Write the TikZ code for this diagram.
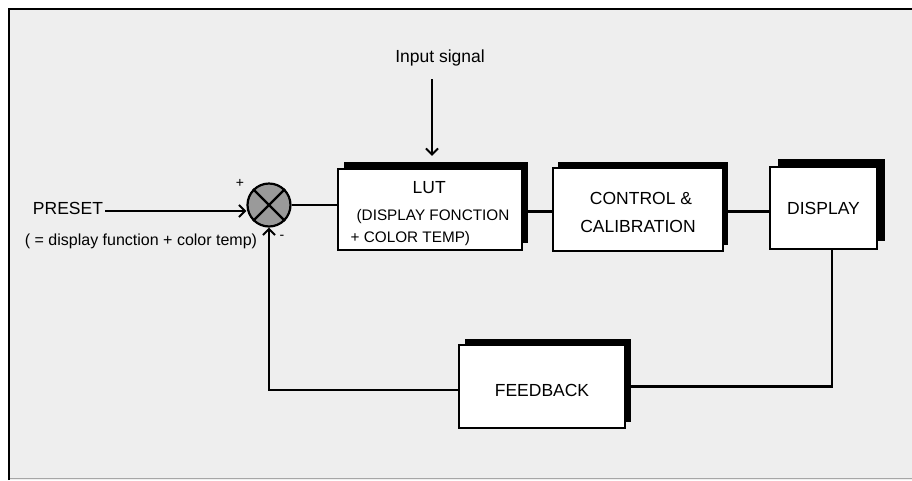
\documentclass[tikz,border=0pt]{standalone}
\usepackage{fontspec}
\setmainfont{Liberation Sans}
\usetikzlibrary{arrows.meta,shadows}
\definecolor{bggray}{HTML}{EEEEEE}
\definecolor{sumgray}{HTML}{9A9A9A}
\tikzset{
  blockbox/.style={draw, line width=2.2pt, fill=white, inner sep=0pt,
    font=\fontsize{17.5}{21}\selectfont},
  blackshadow/.style 2 args={drop shadow={shadow xshift=#1, shadow yshift=#2, shadow scale=1, fill=black, opacity=1}},
  conn/.style={line width=2.2pt},
  arr/.style={line width=2.2pt, -{Straight Barb[length=6pt,width=12pt,line width=2pt]}},
  lbl/.style={inner sep=0pt, font=\fontsize{17.5}{21}\selectfont},
}
\begin{document}
\begin{tikzpicture}[x=1pt,y=-1pt]
\useasboundingbox (0,0) rectangle (912,480);
\fill[white] (0,0) rectangle (912,480);
\fill[bggray] (8,8) rectangle (912,480);
\draw[gray!70, line width=1.5pt] (9,478.5) -- (912,478.5);
\draw[line width=2.2pt] (9,480) -- (9,9) -- (912,9);

% blocks
\node[blockbox, blackshadow={6pt}{7pt}, minimum width=184pt, minimum height=81pt] (lut) at (430,209.5)
  {\raisebox{-4pt}[\height][\depth]{\fontsize{15.3}{22}\selectfont\begin{tabular}{@{}l@{}}
   \fontsize{17.5}{21}\selectfont\hspace*{62pt}LUT\\[5pt]
   \hspace*{6pt}(DISPLAY FONCTION\\
   + COLOR TEMP)\end{tabular}}};
\node[blockbox, blackshadow={4.5pt}{6pt}, minimum width=170pt, minimum height=83pt] (ctrl) at (638,209.5)
  {\raisebox{-3pt}[\height][\depth]{\fontsize{17.5}{28}\selectfont\begin{tabular}{@{}c@{}}
   \hspace*{6pt}CONTROL \&\\CALIBRATION\end{tabular}}};
\node[blockbox, blackshadow={7.5pt}{8.5pt}, minimum width=107pt, minimum height=82pt] (disp) at (823.5,208)
  {DISPLAY};
\node[blockbox, blackshadow={6pt}{6.5pt}, minimum width=166pt, minimum height=83pt] (fb) at (542,386.5)
  {\raisebox{-4pt}[\height][\depth]{FEEDBACK}};

% summing junction
\node[circle, draw, line width=2.2pt, fill=sumgray, minimum size=43pt, inner sep=0pt] (sum) at (269,205) {};
\draw[line width=2.2pt] (sum.45) -- (sum.225);
\draw[line width=2.2pt] (sum.135) -- (sum.315);

% labels
\node[lbl] (preset) at (68,208) {PRESET};
\node[lbl, font=\fontsize{16}{19}\selectfont] (presetsub) at (141,241) {( = display function + color temp)};
\node[lbl, font=\fontsize{14}{16}\selectfont] (plus) at (240,183) {+};
\node[lbl, font=\fontsize{14}{16}\selectfont] (minus) at (282,237) {-};
\node[lbl] (input) at (440,58) {Input signal};

% connectors
\draw[arr] (preset.east) ++(2pt,-3pt) coordinate (pstart) -- (pstart -| sum.west);
\draw[conn] (sum.east) -- (sum.east -| lut.west);
\draw[conn] ([yshift=-2pt]lut.east) -- ([yshift=-2pt]lut.east -| ctrl.west);
\draw[conn] ([yshift=-2pt]ctrl.east) -- ([yshift=-2pt]ctrl.east -| disp.west);
\draw[conn] ([xshift=8.5pt]disp.south) |- (fb.east);
\draw[arr] ([yshift=-3.5pt]fb.west) -| (sum.south);
\draw[arr] ([xshift=-8pt,yshift=-13pt]input.south) -- ([xshift=2pt,yshift=12pt]lut.north);
\end{tikzpicture}
\end{document}
